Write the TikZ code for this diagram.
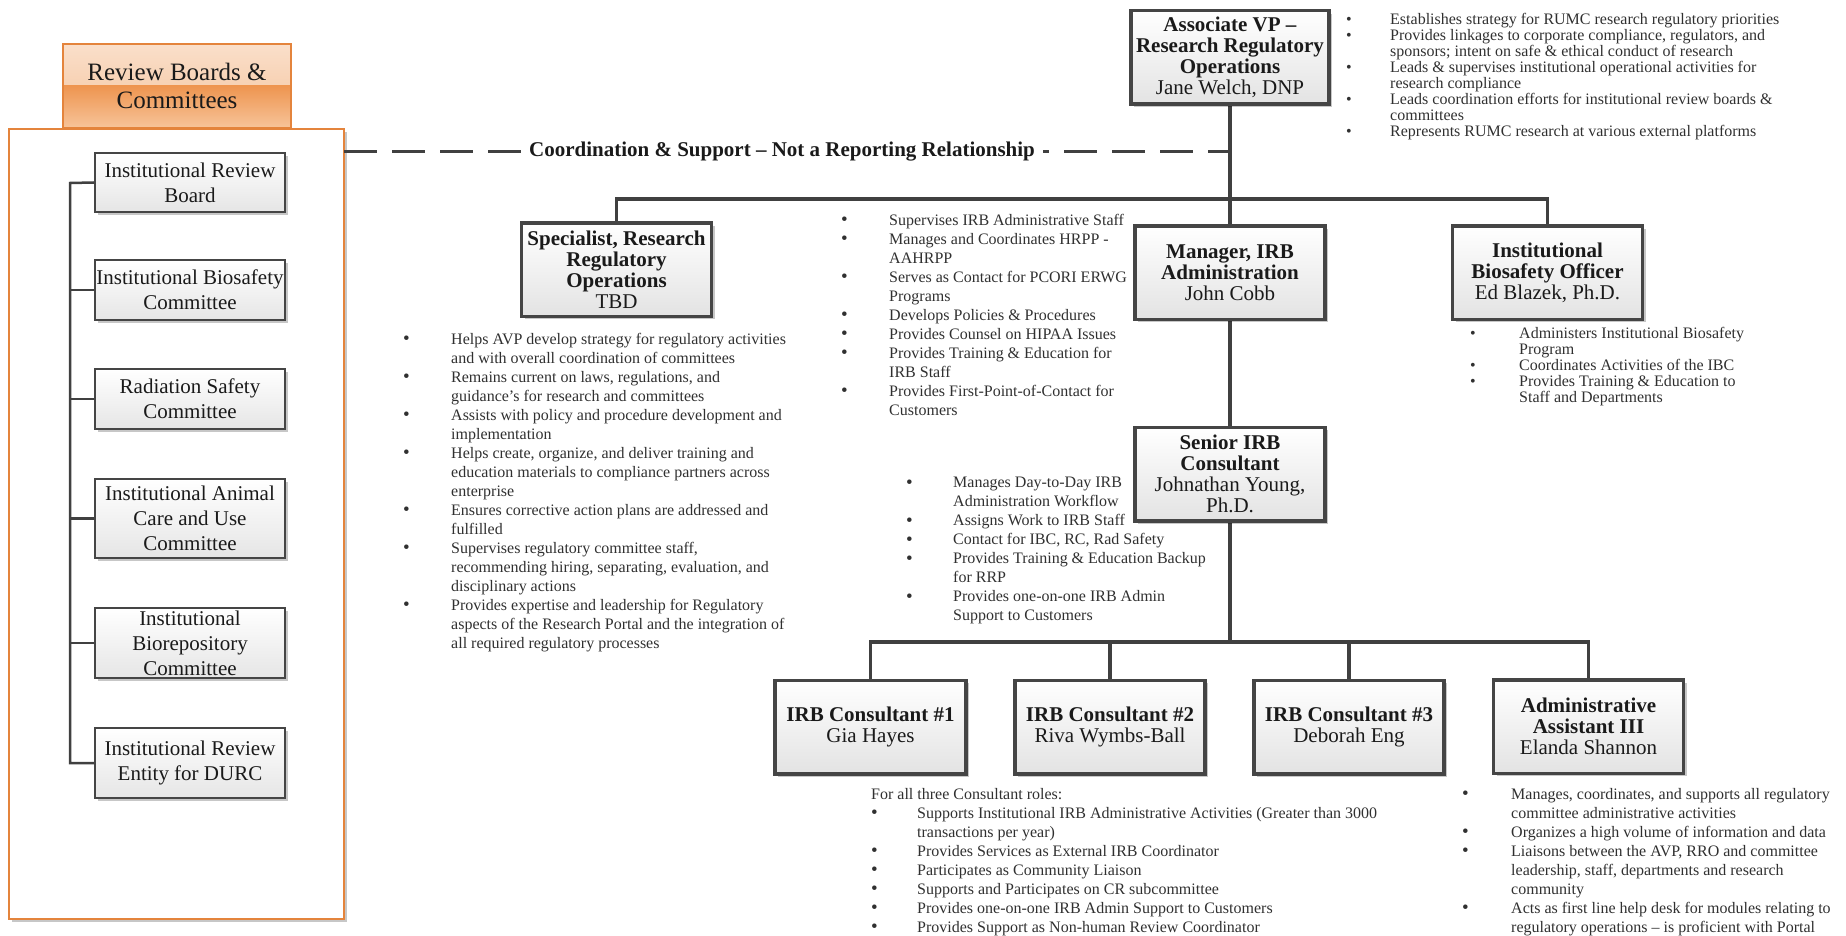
\documentclass[tikz,border=0pt]{standalone}
\usepackage{fontspec}
\setmainfont{Liberation Serif}
\usetikzlibrary{shadows,calc}
\definecolor{linegray}{HTML}{404040}
\definecolor{boxedge}{HTML}{454545}
\definecolor{txt}{HTML}{1A1A1A}
\definecolor{listtxt}{HTML}{303030}
\definecolor{orangeedge}{HTML}{E4843C}
\definecolor{orangetop}{HTML}{FADFCA}
\definecolor{orangemid}{HTML}{F4C39C}
\definecolor{orangedeep}{HTML}{EE9550}
\definecolor{orangelow}{HTML}{F7C49A}
\newlength{\bulw}
\newcommand{\bulsize}{19}
\newcommand{\bu}{\makebox[\bulw][l]{\raisebox{-0.4pt}{\fontsize{\bulsize}{16}\selectfont\textbullet}}}
\newcommand{\bc}{\makebox[\bulw][l]{}}
\tikzset{
  softshadow/.style={drop shadow={shadow xshift=3pt, shadow yshift=-3pt, fill=black, opacity=0.22}},
  orgbox/.style={draw=boxedge, line width=3.5pt, top color=white, bottom color=gray!22,
    softshadow, align=center, inner sep=0pt, text=txt,
    minimum width=190pt, minimum height=93.5pt, font=\fontsize{21}{21}\selectfont},
  combox/.style={draw=boxedge, line width=2pt, top color=white, bottom color=gray!20,
    softshadow, align=center, inner sep=0pt, text=txt,
    minimum width=190pt, font=\fontsize{21}{25}\selectfont},
  bullets/.style={anchor=north west, align=left, inner sep=0pt, text=listtxt,
    font={\fontsize{16}{19}\selectfont\setlength{\bulw}{#1}}},
  tightbullets/.style={anchor=north west, align=left, inner sep=0pt, text=listtxt,
    font={\fontsize{16}{16}\selectfont\setlength{\bulw}{#1}\renewcommand{\bulsize}{16}}},
  link/.style={draw=linegray, line width=3.5pt},
  thinlink/.style={draw=linegray, line width=2.5pt},
}
\begin{document}
\begin{tikzpicture}[x=1pt,y=-1pt]
\useasboundingbox (0,0) rectangle (1846,936);

% ---------- review boards panel ----------
\node[draw=orangeedge, line width=1.5pt, fill=white, softshadow,
      minimum width=335pt, minimum height=790pt, inner sep=0pt] (panel) at (176.5,524) {};
\node[draw=orangeedge, line width=1.2pt, minimum width=228pt, minimum height=84pt,
      inner sep=0pt, align=center, text=txt, font=\fontsize{25}{28}\selectfont,
      path picture={
        \shade[top color=orangetop, bottom color=orangemid]
          (path picture bounding box.north west) rectangle
          ($(path picture bounding box.north east)!0.5!(path picture bounding box.south east)$);
        \shade[top color=orangedeep, bottom color=orangelow]
          ($(path picture bounding box.north west)!0.5!(path picture bounding box.south west)$)
          rectangle (path picture bounding box.south east);
      }] (hdr) at (177,86) {Review Boards \&\\Committees};

\coordinate (ltrunk) at (70,183);
\node[combox, minimum height=58pt] (b1) at (190,182.5) {Institutional Review\\Board};
\node[combox, minimum height=60pt] (b2) at (190,290) {Institutional Biosafety\\Committee};
\node[combox, minimum height=60pt] (b3) at (190,399) {Radiation Safety\\Committee};
\node[combox, minimum height=79pt] (b4) at (190,518.5) {Institutional Animal\\Care and Use\\Committee};
\node[combox, minimum height=70pt] (b5) at (190,643) {Institutional\\Biorepository\\Committee};
\node[combox, minimum height=70pt] (b6) at (190,763) {Institutional Review\\Entity for DURC};

\draw[thinlink] (b1.west) -- (ltrunk) |- (b6.west);
\foreach \b in {b2,b3,b4,b5}
  \draw[thinlink] (\b.west) -- (\b.west -| ltrunk);

% ---------- reporting lines ----------
\coordinate (dashL) at (344,152);
\coordinate (dashR) at (1230,152);
\coordinate (topbar) at (1230,199);
\coordinate (botbar) at (1230,642);

\draw[link, line width=3pt, dash pattern=on 33pt off 15pt] (dashL) -- (dashR);
\node[fill=white, inner xsep=8pt, inner ysep=3pt, text=txt,
      font=\fontsize{21}{21}\selectfont\bfseries] (coordlabel) at (782,152)
      {Coordination \& Support – Not a Reporting Relationship};

\path (1230,57.5) coordinate (avpc) (616.5,269.5) coordinate (specc)
      (1230,272.5) coordinate (mgrc) (1547.5,272.5) coordinate (bsoc)
      (1230,474) coordinate (senc);

\draw[link] (avpc) -- (senc);
\draw[link] (specc) |- (topbar) -| (bsoc);
\draw[link] (senc) -- (botbar);

% ---------- org boxes ----------
\node[orgbox, minimum width=198pt] (avp) at (avpc)
  {\textbf{Associate VP –}\\\textbf{Research Regulatory}\\\textbf{Operations}\\Jane Welch, DNP};
\node[orgbox] (spec) at (specc)
  {\textbf{Specialist, Research}\\\textbf{Regulatory}\\\textbf{Operations}\\TBD};
\node[orgbox] (mgr) at (mgrc)
  {\textbf{Manager, IRB}\\\textbf{Administration}\\John Cobb};
\node[orgbox] (bso) at (bsoc)
  {\textbf{Institutional}\\\textbf{Biosafety Officer}\\Ed Blazek, Ph.D.};
\node[orgbox] (sen) at (senc)
  {\textbf{Senior IRB}\\\textbf{Consultant}\\Johnathan Young,\\Ph.D.};

\node[orgbox, minimum width=191pt] (c1) at (870.5,727) {\textbf{IRB Consultant \#1}\\Gia Hayes};
\node[orgbox] (c2) at (1110,727) {\textbf{IRB Consultant \#2}\\Riva Wymbs-Ball};
\node[orgbox] (c3) at (1349,727) {\textbf{IRB Consultant \#3}\\Deborah Eng};
\node[orgbox] (adm) at (1588.5,726.5) {\textbf{Administrative}\\\textbf{Assistant III}\\Elanda Shannon};

\draw[link] (c1.north) |- (botbar) -| (adm.north);
\draw[link] (c2.north) -- (c2.north |- botbar);
\draw[link] (c3.north) -- (c3.north |- botbar);

% ---------- duty lists ----------
\node[tightbullets=44pt] (avplist) at (1346,13) {%
\bu Establishes strategy for RUMC research regulatory priorities\\
\bu Provides linkages to corporate compliance, regulators, and\\
\bc sponsors; intent on safe \& ethical conduct of research\\
\bu Leads \& supervises institutional operational activities for\\
\bc research compliance\\
\bu Leads coordination efforts for institutional review boards \&\\
\bc committees\\
\bu Represents RUMC research at various external platforms};

\node[bullets=48pt] (speclist) at (403,333) {%
\bu Helps AVP develop strategy for regulatory activities\\
\bc and with overall coordination of committees\\
\bu Remains current on laws, regulations, and\\
\bc guidance's for research and committees\\
\bu Assists with policy and procedure development and\\
\bc implementation\\
\bu Helps create, organize, and deliver training and\\
\bc education materials to compliance partners across\\
\bc enterprise\\
\bu Ensures corrective action plans are addressed and\\
\bc fulfilled\\
\bu Supervises regulatory committee staff,\\
\bc recommending hiring, separating, evaluation, and\\
\bc disciplinary actions\\
\bu Provides expertise and leadership for Regulatory\\
\bc aspects of the Research Portal and the integration of\\
\bc all required regulatory processes};

\node[bullets=48pt] (mgrlist) at (841,214) {%
\bu Supervises IRB Administrative Staff\\
\bu Manages and Coordinates HRPP -\\
\bc AAHRPP\\
\bu Serves as Contact for PCORI ERWG\\
\bc Programs\\
\bu Develops Policies \& Procedures\\
\bu Provides Counsel on HIPAA Issues\\
\bu Provides Training \& Education for\\
\bc IRB Staff\\
\bu Provides First-Point-of-Contact for\\
\bc Customers};

\node[tightbullets=49pt] (bsolist) at (1470,327) {%
\bu Administers Institutional Biosafety\\
\bc Program\\
\bu Coordinates Activities of the IBC\\
\bu Provides Training \& Education to\\
\bc Staff and Departments};

\node[bullets=47pt] (senlist) at (906,477) {%
\bu Manages Day-to-Day IRB\\
\bc Administration Workflow\\
\bu Assigns Work to IRB Staff\\
\bu Contact for IBC, RC, Rad Safety\\
\bu Provides Training \& Education Backup\\
\bc for RRP\\
\bu Provides one-on-one IRB Admin\\
\bc Support to Customers};

\node[bullets=46pt] (conslist) at (871,788) {%
For all three Consultant roles:\\
\bu Supports Institutional IRB Administrative Activities (Greater than 3000\\
\bc transactions per year)\\
\bu Provides Services as External IRB Coordinator\\
\bu Participates as Community Liaison\\
\bu Supports and Participates on CR subcommittee\\
\bu Provides one-on-one IRB Admin Support to Customers\\
\bu Provides Support as Non-human Review Coordinator};

\node[bullets=49pt] (admlist) at (1462,788) {%
\bu Manages, coordinates, and supports all regulatory\\
\bc committee administrative activities\\
\bu Organizes a high volume of information and data\\
\bu Liaisons between the AVP, RRO and committee\\
\bc leadership, staff, departments and research\\
\bc community\\
\bu Acts as first line help desk for modules relating to\\
\bc regulatory operations – is proficient with Portal};

\end{tikzpicture}
\end{document}
